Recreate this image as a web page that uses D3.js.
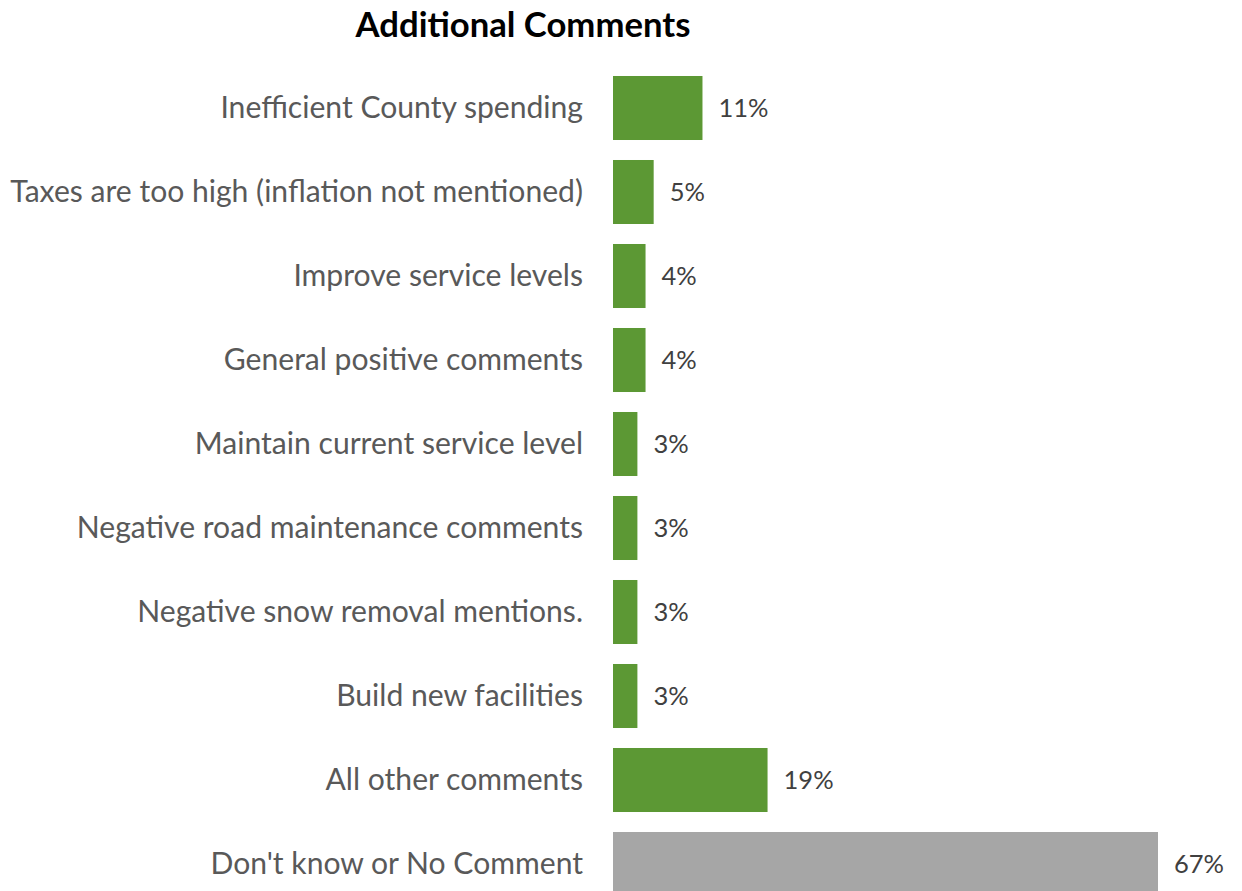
<!DOCTYPE html>
<html>
<head>
<meta charset="utf-8">
<script src="https://cdn.jsdelivr.net/npm/d3@7"></script>
<style>
  html, body { margin: 0; padding: 0; background: #ffffff; }
  svg { display: block; }
</style>
</head>
<body>
<svg id="chart" width="1242" height="891"></svg>
<script>
// Survey responses: share of respondents per comment category
const categories = [
  "Inefficient County spending",
  "Taxes are too high (inflation not mentioned)",
  "Improve service levels",
  "General positive comments",
  "Maintain current service level",
  "Negative road maintenance comments",
  "Negative snow removal mentions.",
  "Build new facilities",
  "All other comments",
  "Don't know or No Comment"
];
const values = [11, 5, 4, 4, 3, 3, 3, 3, 19, 67];
const barColors = ["#5c9834", "#5c9834", "#5c9834", "#5c9834", "#5c9834",
                   "#5c9834", "#5c9834", "#5c9834", "#5c9834", "#a6a6a6"];
const title = "Additional Comments";

const fontFamily = "Lato, 'Open Sans', 'Liberation Sans', sans-serif";
const svg = d3.select("#chart");

const x0 = 613;
const x = d3.scaleLinear().domain([0, 67]).range([x0, 1158]);
const y = d3.scaleBand()
  .domain(categories)
  .range([66, 906])
  .paddingInner(0.238)
  .paddingOuter(0.119);

// Title
const titleText = svg.append("text")
  .attr("x", 523)
  .attr("y", 37)
  .attr("text-anchor", "middle")
  .attr("font-family", fontFamily)
  .attr("font-weight", "bold")
  .attr("font-size", 30)
  .attr("fill", "#000000")
  .text(title);
// fit title width
{
  const w = titleText.node().getComputedTextLength();
  titleText.attr("font-size", 30 * 335 / w);
}

// Bars
svg.append("g")
  .selectAll("rect")
  .data(categories)
  .join("rect")
  .attr("x", x(0))
  .attr("y", d => y(d))
  .attr("width", (d, i) => x(values[i]) - x(0))
  .attr("height", y.bandwidth())
  .attr("fill", (d, i) => barColors[i]);

// Category labels via a left axis without lines
const axis = d3.axisLeft(y).tickSize(0).tickPadding(0);
const axisG = svg.append("g")
  .attr("transform", `translate(${583},0)`)
  .call(axis);
axisG.select(".domain").remove();
axisG.selectAll("text")
  .attr("font-family", fontFamily)
  .attr("fill", "#595959")
  .attr("font-size", 26);

// fit label font size to longest label width
let maxW = 0;
axisG.selectAll("text").each(function() {
  maxW = Math.max(maxW, this.getComputedTextLength());
});
const labelSize = 26 * 573 / maxW;
axisG.selectAll("text").attr("font-size", labelSize);

// Value labels
svg.append("g")
  .selectAll("text")
  .data(categories)
  .join("text")
  .attr("x", (d, i) => x(values[i]) + 16)
  .attr("y", d => y(d) + y.bandwidth() / 2)
  .attr("dy", "0.36em")
  .attr("font-family", fontFamily)
  .attr("font-size", 25.5)
  .attr("fill", "#404040")
  .text((d, i) => values[i] + "%");
</script>
</body>
</html>
